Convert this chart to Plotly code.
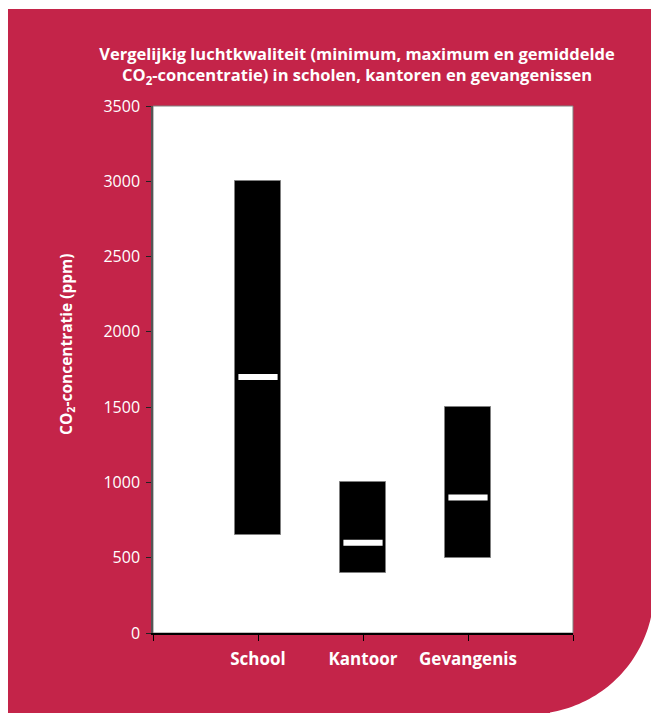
import numpy as np
import plotly.graph_objects as go

# ---- data ----
categories = ["School", "Kantoor", "Gevangenis"]
minimum = [650, 400, 500]
maximum = [3000, 1000, 1500]
gemiddeld = [1700, 600, 900]
y_ticks = [0, 500, 1000, 1500, 2000, 2500, 3000, 3500]

title_text = ("Vergelijkig luchtkwaliteit (minimum, maximum en gemiddelde<br>"
              "CO<sub>2</sub>-concentratie) in scholen, kantoren en gevangenissen")
y_title = "CO<sub>2</sub>-concentratie (ppm)"

RED = "#C42449"
FONT = "Open Sans"

# ---- layout geometry (pixels) ----
W, H = 651, 713
L, R, T, B = 153, 573, 106, 633


def px(x):
    return (x - L) / (R - L)


def py(y):
    return (B - y) / (B - T)


positions = list(range(1, len(categories) + 1))
edges = [0, len(categories) + 1]

fig = go.Figure()
fig.add_trace(go.Bar(
    x=positions,
    y=[mx - mn for mx, mn in zip(maximum, minimum)],
    base=minimum,
    width=0.43,
    marker=dict(color="black", line=dict(color="#7f7f7f", width=1)),
    hoverinfo="skip",
    showlegend=False,
))
fig.add_trace(go.Scatter(
    x=positions,
    y=gemiddeld,
    mode="markers",
    marker=dict(symbol="line-ew", size=28, color="white",
                line=dict(color="white", width=6)),
    showlegend=False,
))

# background red panel with rounded bottom-right cut
cx, cy, r = 530, 590, 124
a0 = np.arcsin((617 - cy) / r)
a1 = np.arccos((550 - cx) / r)
pts = [(8, 9), (651, 9), (651, 617)]
for a in np.linspace(a0, a1, 40):
    pts.append((cx + r * np.cos(a), cy + r * np.sin(a)))
pts += [(550, 713), (8, 713)]
path = "M " + " L ".join(f"{px(x):.5f},{py(y):.5f}" for x, y in pts) + " Z"

shapes = [
    dict(type="path", xref="paper", yref="paper", path=path,
         fillcolor=RED, line=dict(width=0), layer="below"),
    dict(type="rect", xref="paper", yref="paper", x0=0, y0=0, x1=1, y1=1,
         fillcolor="white", line=dict(color="#808080", width=1), layer="below"),
]

fig.update_layout(
    width=W, height=H,
    margin=dict(l=L, r=W - R, t=T, b=H - B, pad=0),
    paper_bgcolor="white",
    plot_bgcolor="white",
    shapes=shapes,
    bargap=0,
    title=dict(text=title_text, x=357 / W, xanchor="center", xref="container",
               y=1 - 60 / H, yanchor="middle", yref="container",
               font=dict(family=FONT, size=16.5, color="white", weight="bold")),
    xaxis=dict(range=[0, 4], tickvals=positions, ticktext=categories,
               showgrid=False, zeroline=False, showline=True,
               linecolor="black", linewidth=1.5,
               ticks="outside", ticklen=6, tickcolor="black", tickwidth=1,
               minor=dict(tickvals=edges, ticks="outside", ticklen=6,
                          tickcolor="black", tickwidth=1, showgrid=False),
               tickfont=dict(family=FONT, size=17, color="white", weight="bold"),
               ticklabelstandoff=4, fixedrange=True),
    yaxis=dict(range=[0, 3500], tickvals=y_ticks,
               showgrid=False, zeroline=False, showline=True,
               linecolor="#555555", linewidth=1.5,
               ticks="outside", ticklen=5, tickcolor="#222222", tickwidth=1,
               tickfont=dict(family=FONT, size=16, color="white"),
               ticklabelstandoff=3, fixedrange=True),
    annotations=[dict(text=y_title, xref="paper", yref="paper",
                      x=px(66), y=py(344), xanchor="center", yanchor="middle",
                      textangle=-90, showarrow=False,
                      font=dict(family=FONT, size=15.5, color="white", weight="bold"))],
)

fig.write_html("out.html")
